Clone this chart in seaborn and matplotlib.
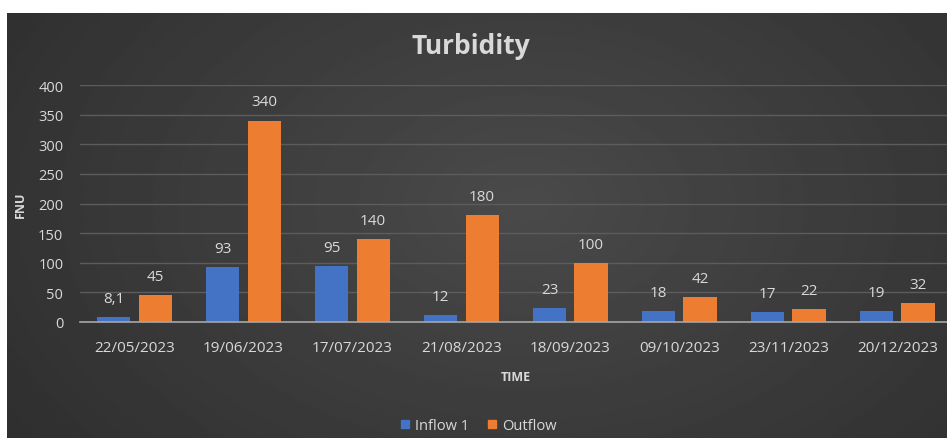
import numpy as np
import pandas as pd
import matplotlib
matplotlib.use("Agg")
import matplotlib.pyplot as plt
import seaborn as sns

dates = ["22/05/2023", "19/06/2023", "17/07/2023", "21/08/2023",
         "18/09/2023", "09/10/2023", "23/11/2023", "20/12/2023"]
inflow = [8.1, 93, 95, 12, 23, 18, 17, 19]
outflow = [45, 340, 140, 180, 100, 42, 22, 32]
series = ["Inflow 1", "Outflow"]
colors = ["#4472C4", "#ED7D31"]

df = pd.DataFrame({
    "date": dates * 2,
    "value": inflow + outflow,
    "series": [series[0]] * len(dates) + [series[1]] * len(dates),
})

sns.set_style("dark")
plt.rcParams["font.family"] = ["Open Sans", "DejaVu Sans"]
txt = "#d9d9d9"

fig = plt.figure(figsize=(9.47, 4.39), dpi=100)
fig.patch.set_facecolor("white")

# dark radial-ish gradient background, leaving white strip top and left
bg = fig.add_axes([7 / 947, 0, 1 - 7 / 947, 1 - 14 / 439], zorder=0)
yy, xx = np.mgrid[0:1:200j, 0:1:400j]
d = np.sqrt(((xx - 0.55) / 0.75) ** 2 + ((yy - 0.45) / 1.1) ** 2)
shade = np.clip(0.29 - 0.12 * d, 0.17, 0.29)
bg.imshow(shade, cmap="gray", vmin=0, vmax=1, aspect="auto", extent=[0, 1, 0, 1])
bg.axis("off")

ax = fig.add_axes([80 / 947, 1 - 323 / 439, 1 - 80 / 947 + 0.005, (323 - 86) / 439], zorder=1)
ax.set_facecolor("none")
sns.barplot(data=df, x="date", y="value", hue="series", palette=colors,
            width=0.76, gap=0.2, ax=ax, legend=False, saturation=1, linewidth=0)

for cont, vals in zip(ax.containers, [inflow, outflow]):
    labels = [f"{v:g}".replace(".", ",") for v in vals]
    ax.bar_label(cont, labels=labels, padding=8, color=txt, fontsize=11)

ax.set_ylim(0, 400)
ax.set_xlim(-0.5, 7.5)
ax.set_yticks(range(0, 401, 50))
ax.grid(axis="y", color="#5c5c5c", linewidth=1)
ax.grid(axis="x", visible=False)
ax.set_axisbelow(True)
for s in ["top", "right", "left"]:
    ax.spines[s].set_visible(False)
ax.spines["bottom"].set_color("#a6a6a6")
ax.spines["bottom"].set_linewidth(1.2)

ax.set_xticks(np.arange(-0.5, 8, 1), minor=True)
ax.tick_params(axis="x", which="major", length=0, pad=13, colors=txt, labelsize=11)
ax.tick_params(axis="x", which="minor", length=5, color="#a6a6a6", width=1.2)
ax.tick_params(axis="y", length=0, colors=txt, labelsize=10.5, pad=12)

ax.set_xlabel("TIME", color=txt, fontsize=9, fontweight="bold", labelpad=11)
ax.set_ylabel("FNU", color=txt, fontsize=9, fontweight="bold", labelpad=8)

fig.text(0.497, 0.895, "Turbidity", ha="center", va="center", color=txt,
         fontsize=19, fontweight="bold")

handles = [plt.Line2D([], [], marker="s", linestyle="", color=c, markersize=6) for c in colors]
fig.legend(handles, series, loc="lower center", bbox_to_anchor=(0.5, -0.018), ncol=2,
           frameon=False, labelcolor=txt, fontsize=10.5, handletextpad=-0.3,
           columnspacing=0.6)

fig.savefig("out.png", dpi=100, facecolor=fig.get_facecolor())
